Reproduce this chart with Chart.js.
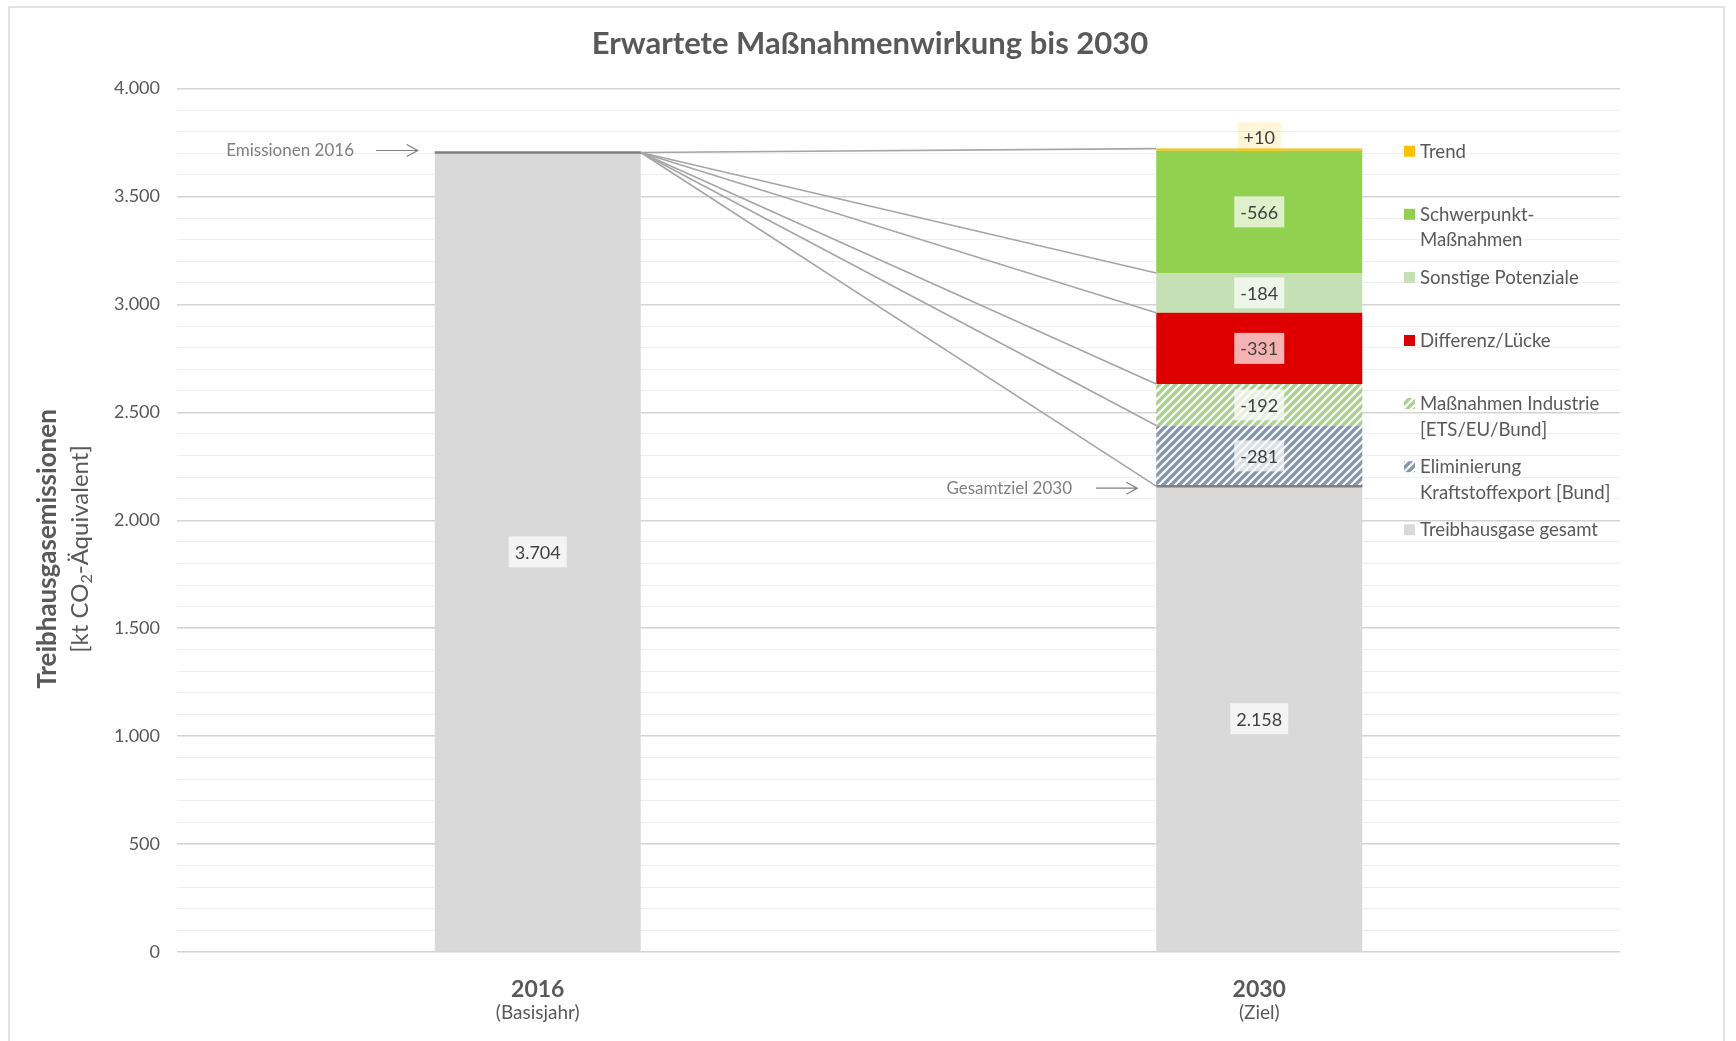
<!DOCTYPE html>
<html>
<head>
<meta charset="utf-8">
<script src="https://cdn.jsdelivr.net/npm/chart.js@4.4.1/dist/chart.umd.min.js"></script>
<style>
    html, body { margin: 0; padding: 0; background: #fff; }
    #myChart { display: block; }
</style>
</head>
<body>
<canvas id="myChart" width="1736" height="1041"></canvas>
<script>
// Kategorien und Werte (kt CO2-Äquivalent)
const categories = ['2016', '2030'];
const categoryNotes = ['(Basisjahr)', '(Ziel)'];
const gesamt = [3704, 2158];          // Treibhausgase gesamt
const eliminierung = [null, -281];    // Eliminierung Kraftstoffexport [Bund]
const industrie = [null, -192];       // Maßnahmen Industrie [ETS/EU/Bund]
const differenz = [null, -331];       // Differenz/Lücke
const sonstige = [null, -184];        // Sonstige Potenziale
const schwerpunkt = [null, -566];     // Schwerpunkt-Maßnahmen
const trend = [null, 10];             // Trend
const yTicks = [0, 500, 1000, 1500, 2000, 2500, 3000, 3500, 4000];

const FONT = 'Lato, "Open Sans", sans-serif';
const TXT = '#595959';

function fmt(v) {
    return String(v).replace(/\B(?=(\d{3})+(?!\d))/g, '.');
}
function signed(v) {
    return (v > 0 ? '+' : '') + v;
}

// Schraffur-Muster
function hatch(color) {
    const c = document.createElement('canvas');
    c.width = 8; c.height = 8;
    const x = c.getContext('2d');
    x.fillStyle = '#fff';
    x.fillRect(0, 0, 8, 8);
    x.strokeStyle = color;
    x.lineWidth = 3.4;
    x.beginPath();
    x.moveTo(-2, 2); x.lineTo(2, -2);
    x.moveTo(-1, 9); x.lineTo(9, -1);
    x.moveTo(6, 10); x.lineTo(10, 6);
    x.stroke();
    return c;
}
const ctx = document.getElementById('myChart').getContext('2d');
const blueHatch = ctx.createPattern(hatch('#8497b0'), 'repeat');
const greenHatch = ctx.createPattern(hatch('#a9d18e'), 'repeat');

const series = [
    { label: 'Treibhausgase gesamt', values: gesamt, color: '#d9d9d9' },
    { label: 'Eliminierung\nKraftstoffexport [Bund]', values: eliminierung, color: blueHatch },
    { label: 'Maßnahmen Industrie\n[ETS/EU/Bund]', values: industrie, color: greenHatch },
    { label: 'Differenz/Lücke', values: differenz, color: '#de0000' },
    { label: 'Sonstige Potenziale', values: sonstige, color: '#c5e0b4' },
    { label: 'Schwerpunkt-\nMaßnahmen', values: schwerpunkt, color: '#92d050' },
    { label: 'Trend', values: trend, color: '#ffc000' }
];

function drawBox(c, text, cx, cy, fill) {
    c.font = '18px ' + FONT;
    const w = c.measureText(text).width + 12;
    const h = 31;
    c.fillStyle = fill;
    c.fillRect(cx - w / 2, cy - h / 2, w, h);
    c.fillStyle = '#404040';
    c.textAlign = 'center';
    c.textBaseline = 'middle';
    c.fillText(text, cx, cy + 1);
}

function drawArrow(c, x1, x2, y) {
    c.strokeStyle = '#7f7f7f';
    c.lineWidth = 1.2;
    c.beginPath();
    c.moveTo(x1, y); c.lineTo(x2, y);
    c.moveTo(x2 - 11, y - 6); c.lineTo(x2, y); c.lineTo(x2 - 11, y + 6);
    c.stroke();
}

const extras = {
    id: 'extras',
    beforeDraw(chart) {
        const c = chart.ctx;
        c.save();
        c.fillStyle = '#fff';
        c.fillRect(0, 0, chart.width, chart.height);
        c.strokeStyle = '#d9d9d9';
        c.lineWidth = 1.5;
        c.strokeRect(9, 7, 1715, 1060);
        c.restore();
    },
    afterDatasetsDraw(chart) {
        const c = chart.ctx;
        const y = chart.scales.y;
        const b16 = chart.getDatasetMeta(0).data[0];
        const b30 = chart.getDatasetMeta(0).data[1];
        const right16 = b16.x + b16.width / 2;
        const left30 = b30.x - b30.width / 2;
        const y16 = y.getPixelForValue(gesamt[0]);
        c.save();

        // Verbindungslinien
        c.strokeStyle = '#a6a6a6';
        c.lineWidth = 1.6;
        [6, 4, 3, 2, 1, 0].forEach(i => {
            const el = chart.getDatasetMeta(i).data[1];
            c.beginPath();
            c.moveTo(right16, y16);
            c.lineTo(left30, el.y);
            c.stroke();
        });

        // dunkle Oberkanten
        c.strokeStyle = '#7f7f7f';
        c.lineWidth = 2.5;
        c.beginPath();
        c.moveTo(b16.x - b16.width / 2, y16); c.lineTo(right16, y16);
        c.moveTo(left30, b30.y); c.lineTo(b30.x + b30.width / 2, b30.y);
        c.stroke();

        // Datenbeschriftungen
        drawBox(c, fmt(gesamt[0]), b16.x, (b16.y + b16.base) / 2, 'rgba(255,255,255,0.7)');
        drawBox(c, fmt(gesamt[1]), b30.x, (b30.y + b30.base) / 2, 'rgba(255,255,255,0.7)');
        for (let i = 1; i < series.length; i++) {
            const el = chart.getDatasetMeta(i).data[1];
            const v = series[i].values[1];
            if (i === 6) {
                drawBox(c, signed(v), el.x, el.y - 11, 'rgba(255,192,0,0.15)');
            } else {
                drawBox(c, signed(v), el.x, (el.y + el.base) / 2, 'rgba(255,255,255,0.7)');
            }
        }

        // Hinweise mit Pfeilen
        c.font = '17px ' + FONT;
        c.fillStyle = '#7f7f7f';
        c.textAlign = 'right';
        c.textBaseline = 'middle';
        c.fillText('Emissionen 2016', 354, y16 - 2);
        drawArrow(c, 376, b16.x - b16.width / 2 - 17, y16 - 2);
        c.fillText('Gesamtziel 2030', 1072, b30.y + 2);
        drawArrow(c, 1096, left30 - 19, b30.y + 2);
        c.restore();
    },
    afterDraw(chart) {
        const c = chart.ctx;
        const area = chart.chartArea;
        const x = chart.scales.x;
        c.save();

        // Titel
        c.fillStyle = TXT;
        c.textAlign = 'center';
        c.textBaseline = 'middle';
        c.font = 'bold 31px ' + FONT;
        c.fillText('Erwartete Maßnahmenwirkung bis 2030', 870, 44);

        // x-Achse
        categories.forEach((cat, i) => {
            const px = x.getPixelForValue(i);
            c.font = 'bold 23px ' + FONT;
            c.fillText(cat, px, 990);
            c.font = '19px ' + FONT;
            c.fillText(categoryNotes[i], px, 1013);
        });

        // y-Achsentitel
        c.save();
        c.translate(48, 549);
        c.rotate(-Math.PI / 2);
        c.font = 'bold 26px ' + FONT;
        c.fillText('Treibhausgasemissionen', 0, 0);
        const p1 = '[kt CO', p2 = '2', p3 = '-Äquivalent]';
        c.font = '24px ' + FONT;
        const w1 = c.measureText(p1).width, w3 = c.measureText(p3).width;
        c.font = '16px ' + FONT;
        const w2 = c.measureText(p2).width;
        let sx = -(w1 + w2 + w3) / 2;
        c.textAlign = 'left';
        c.font = '24px ' + FONT;
        c.fillText(p1, sx, 32);
        c.font = '16px ' + FONT;
        c.fillText(p2, sx + w1, 39);
        c.font = '24px ' + FONT;
        c.fillText(p3, sx + w1 + w2, 32);
        c.restore();

        // Legende
        c.textAlign = 'left';
        c.textBaseline = 'middle';
        c.font = '18.6px ' + FONT;
        const rev = series.map((s, i) => i).reverse();
        rev.forEach((i, k) => {
            const yy = area.top + 63.1 * (k + 1);
            c.fillStyle = series[i].color;
            c.fillRect(1404, yy - 6, 11, 11);
            c.fillStyle = TXT;
            series[i].label.split('\n').forEach((line, j) => {
                c.fillText(line, 1420, yy + j * 25.5);
            });
        });
        c.restore();
    }
};

new Chart(ctx, {
    type: 'bar',
    data: {
        labels: categories,
        datasets: series.map(s => ({
            label: s.label,
            data: s.values.map(v => v === null ? null : Math.abs(v)),
            backgroundColor: s.color,
            borderWidth: 0,
            categoryPercentage: 1,
            barPercentage: 0.2855
        }))
    },
    options: {
        responsive: false,
        animation: false,
        layout: { padding: { left: 0, right: 116, top: 88.6, bottom: 89 } },
        scales: {
            x: {
                stacked: true,
                grid: { display: false },
                border: { display: false },
                ticks: { display: false },
                afterFit: s => { s.height = 0; }
            },
            y: {
                stacked: true,
                min: 0,
                max: 4000,
                afterFit: s => { s.width = 177; },
                border: { display: false },
                grid: {
                    drawTicks: false,
                    color: c => (c.tick && c.tick.value % 500 === 0) ? '#d4d4d4' : '#efefef',
                    lineWidth: c => (c.tick && c.tick.value % 500 === 0) ? 1.5 : 1
                },
                ticks: {
                    stepSize: 100,
                    autoSkip: false,
                    padding: 17,
                    color: TXT,
                    font: { family: FONT, size: 18 },
                    callback: v => yTicks.includes(v) ? fmt(v) : ''
                }
            }
        },
        plugins: {
            legend: { display: false },
            tooltip: { enabled: false }
        }
    },
    plugins: [extras]
});
</script>
</body>
</html>
